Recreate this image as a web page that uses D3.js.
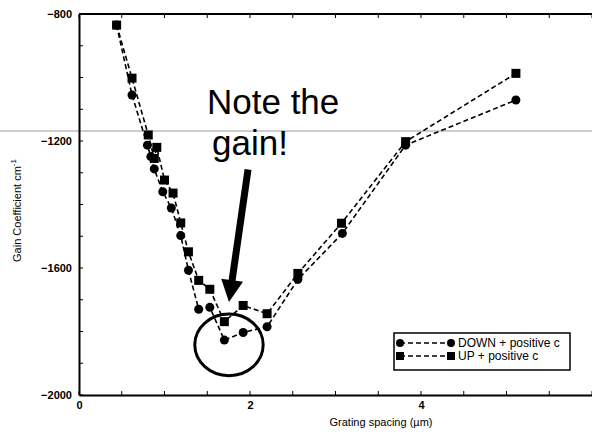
<!DOCTYPE html>
<html><head><meta charset="utf-8">
<script src="https://cdn.jsdelivr.net/npm/d3@7"></script>
<style>body{margin:0;background:#fff}svg{display:block}</style>
</head><body><svg id="c" width="592" height="443"></svg>
<script>
const downX = [0.44,0.62,0.80,0.84,0.88,0.98,1.08,1.19,1.28,1.40,1.53,1.70,1.92,2.20,2.56,3.08,3.82,5.11];
const downY = [-835,-1055,-1213,-1249,-1288,-1360,-1411,-1498,-1607,-1730,-1724,-1827,-1803,-1785,-1636,-1491,-1213,-1071];
const upX = [0.44,0.62,0.81,0.88,0.91,1.00,1.10,1.19,1.28,1.40,1.53,1.70,1.92,2.20,2.56,3.07,3.82,5.11];
const upY = [-835,-1002,-1181,-1255,-1220,-1323,-1364,-1458,-1549,-1639,-1667,-1769,-1718,-1744,-1617,-1459,-1202,-987];
const yTicks = [-800,-1200,-1600,-2000];
const xTicks = [0,2,4];
const seriesNames = ["DOWN + positive c","UP + positive c"];

const svg = d3.select("#c");
const x = d3.scaleLinear().domain([0,6]).range([79,592]);
const y = d3.scaleLinear().domain([-2000,-800]).range([395,14]);
const font = "'Liberation Sans', Arial, sans-serif";

// scan artifact line
svg.append("line").attr("x1",0).attr("x2",592).attr("y1",131).attr("y2",131)
  .attr("stroke","#999").attr("stroke-width",1);

// axes
const gL = svg.append("g").attr("transform",`translate(${x(0)},0)`)
  .call(d3.axisLeft(y).tickValues(yTicks).tickSize(0).tickPadding(7).tickFormat(d3.format("d")));
const gB = svg.append("g").attr("transform",`translate(0,${y(-2000)})`)
  .call(d3.axisBottom(x).tickValues(xTicks).tickSize(0).tickPadding(6).tickFormat(d3.format("d")));
[gL,gB].forEach(g=>{
  g.select(".domain").attr("stroke","#000").attr("stroke-width",2);
  g.selectAll("text").attr("font-family",font).attr("font-size",11).attr("font-weight","bold").attr("fill","#000");
});
gL.selectAll("text").attr("dy","0.35em");
// top border
svg.append("line").attr("x1",x(0)).attr("x2",592).attr("y1",y(-800)).attr("y2",y(-800))
  .attr("stroke","#000").attr("stroke-width",2);
// minor ticks
const yMinor = d3.range(-2000,-799,100);
svg.append("g").selectAll("line").data(yMinor).join("line")
  .attr("x1",x(0)).attr("x2",x(0)+4).attr("y1",d=>y(d)).attr("y2",d=>y(d))
  .attr("stroke","#000").attr("stroke-width",1);
const xMinor = d3.range(0,6.01,0.5);
svg.append("g").selectAll("line").data(xMinor).join("line")
  .attr("x1",d=>x(d)).attr("x2",d=>x(d)).attr("y1",y(-2000)).attr("y2",y(-2000)-4)
  .attr("stroke","#000").attr("stroke-width",1);
svg.append("g").selectAll("line").data(xMinor).join("line")
  .attr("x1",d=>x(d)).attr("x2",d=>x(d)).attr("y1",y(-800)).attr("y2",y(-800)+4)
  .attr("stroke","#000").attr("stroke-width",1);

// axis titles
svg.append("text").attr("transform",`translate(21,${(y(-800)+y(-2000))/2+6}) rotate(-90)`)
  .attr("text-anchor","middle").attr("font-family",font).attr("font-size",11).attr("fill","#000")
  .html('Gain Coefficient cm<tspan dy="-5" font-size="8">-1</tspan>');
svg.append("text").attr("x",381).attr("y",426).attr("text-anchor","middle")
  .attr("font-family",font).attr("font-size",11).attr("fill","#000").text("Grating spacing (µm)");

// series
const line = d3.line().x(d=>x(d[0])).y(d=>y(d[1]));
const down = downX.map((v,i)=>[v,downY[i]]);
const up = upX.map((v,i)=>[v,upY[i]]);
[down,up].forEach(s=>{
  svg.append("path").datum(s).attr("d",line).attr("fill","none").attr("stroke","#000")
    .attr("stroke-width",1.6).attr("stroke-dasharray","5,3");
});
svg.append("g").selectAll("circle").data(down).join("circle")
  .attr("cx",d=>x(d[0])).attr("cy",d=>y(d[1])).attr("r",4.5).attr("fill","#000");
svg.append("g").selectAll("rect").data(up).join("rect")
  .attr("x",d=>x(d[0])-4.5).attr("y",d=>y(d[1])-4.5).attr("width",9).attr("height",9).attr("fill","#000");

// annotation (in data coords)
const noteLines = [["Note the",1.497,-1115],["gain!",1.556,-1244]];
svg.append("g").selectAll("text").data(noteLines).join("text")
  .attr("x",d=>x(d[1])).attr("y",d=>y(d[2])).attr("font-family",font).attr("font-size",35)
  .attr("fill","#000").text(d=>d[0]);
const ell = {cx:1.754, cy:-1842, rx:0.40, ry:97};
svg.append("ellipse").attr("cx",x(ell.cx)).attr("cy",y(ell.cy))
  .attr("rx",x(ell.rx)-x(0)).attr("ry",y(-2000)-y(-2000+ell.ry))
  .attr("fill","none").attr("stroke","#000").attr("stroke-width",3);
const arr = {x0:1.977,y0:-1290,x1:1.754,y1:-1707};
{
  const ax0=x(arr.x0), ay0=y(arr.y0), ax1=x(arr.x1), ay1=y(arr.y1);
  const dx=ax1-ax0, dy=ay1-ay0, L=Math.hypot(dx,dy), ux=dx/L, uy=dy/L, px=-uy, py=ux;
  const hl=22, hw=11;
  const bx=ax1-ux*hl, by=ay1-uy*hl;
  svg.append("line").attr("x1",ax0).attr("y1",ay0).attr("x2",bx+ux*2).attr("y2",by+uy*2)
    .attr("stroke","#000").attr("stroke-width",7);
  svg.append("path").attr("d",`M${ax1},${ay1}L${bx+px*hw},${by+py*hw}L${bx-px*hw},${by-py*hw}Z`).attr("fill","#000");
}

// legend
const lg = svg.append("g");
lg.append("rect").attr("x",394).attr("y",333).attr("width",176).attr("height",37)
  .attr("fill","#fff").attr("stroke","#000").attr("stroke-width",1.5);
const rows=[343,356];
rows.forEach((ry,i)=>{
  lg.append("line").attr("x1",400).attr("x2",451).attr("y1",ry).attr("y2",ry)
    .attr("stroke","#000").attr("stroke-width",1.6).attr("stroke-dasharray","5,3");
  [400,451].forEach(cx=>{
    if(i===0) lg.append("circle").attr("cx",cx).attr("cy",ry).attr("r",4).attr("fill","#000");
    else lg.append("rect").attr("x",cx-4).attr("y",ry-4).attr("width",8).attr("height",8).attr("fill","#000");
  });
  lg.append("text").attr("x",458).attr("y",ry+4).attr("font-family",font).attr("font-size",12)
    .attr("fill","#000").text(seriesNames[i]);
});
</script></body></html>
